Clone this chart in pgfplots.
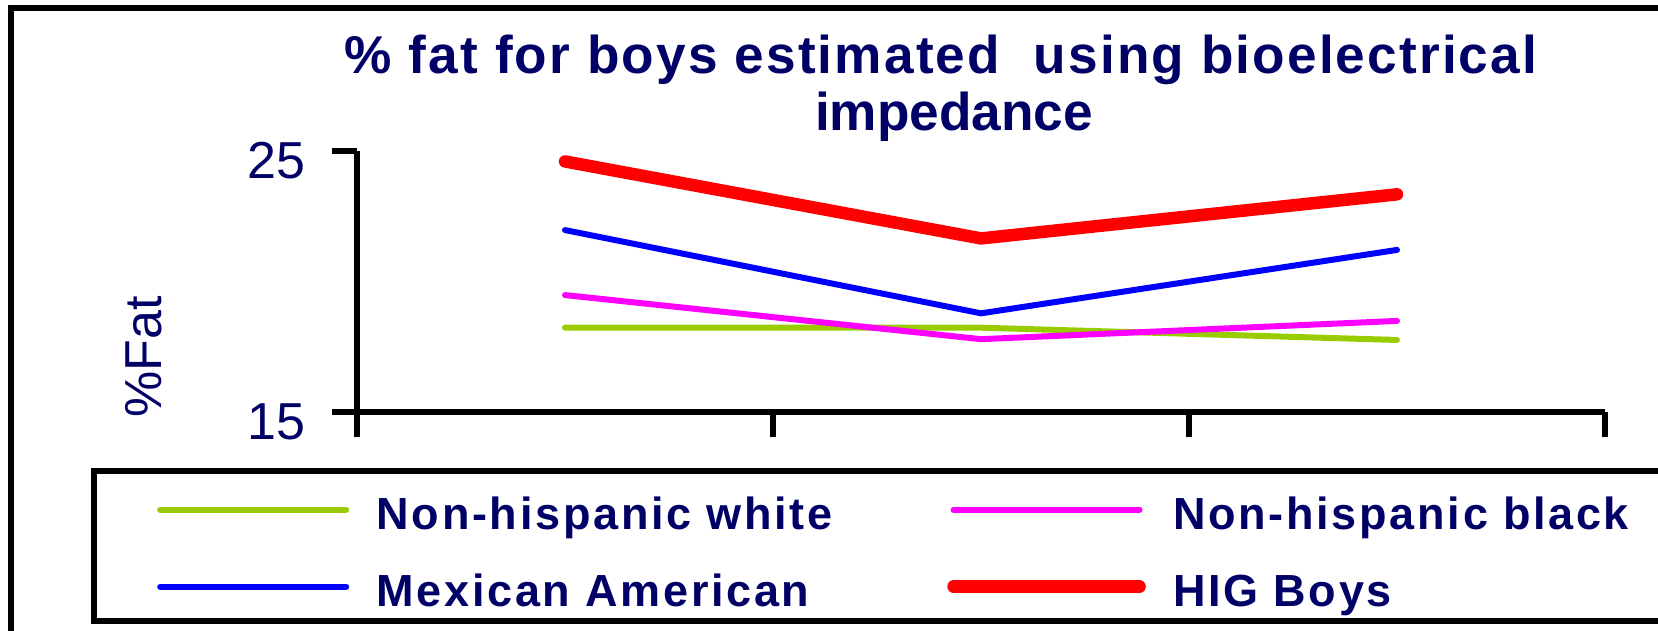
\documentclass[border=0pt]{standalone}
\usepackage{fontspec}
\setmainfont{Liberation Sans}
\newfontfamily\titlefont[LetterSpace=4]{Liberation Sans}
\newfontfamily\legfont[LetterSpace=6]{Liberation Sans}
\usepackage{pgfplots}
\pgfplotsset{compat=1.18}
\definecolor{navy}{HTML}{000066}
\definecolor{nhw}{HTML}{99CC00}
\definecolor{nhb}{HTML}{FF00FF}
\definecolor{mex}{HTML}{0000FF}
\definecolor{hig}{HTML}{FF0000}
\begin{document}
\begin{tikzpicture}
\begin{axis}[
  at={(178.5pt,109.5pt)}, anchor=south west,
  scale only axis, width=624pt, height=130.5pt,
  xmin=0, xmax=3, ymin=15, ymax=25,
  axis lines=left,
  axis line style={-, line width=3.25pt, black},
  xtick={0,1,2,3}, xticklabels={},
  ytick={15,25},
  tick align=outside, major tick length=12.5pt,
  tick style={black, line width=3.25pt},
  /pgf/number format/assume math mode=true,
  yticklabel style={anchor=east, inner sep=0pt, xshift=-13pt, yshift=-5pt,
     font=\fontsize{26pt}{30pt}\selectfont, text=navy},
  ylabel={\%Fat},
  every axis y label/.style={at={(axis description cs:-0.1707,0.2107)}, rotate=90, anchor=center,
     font=\fontsize{26pt}{30pt}\selectfont, text=navy},
  clip=false,
  legend columns=2,
  legend cell align=left,
  legend image code/.code={\draw[#1, line cap=round] (0pt,0pt) -- (93pt,0pt); \path (0pt,-16.9pt) (106.75pt,16.9pt);},
  legend style={draw=none, fill=none, inner sep=0pt, outer sep=0pt,
     at={(-0.1601,-0.23372)}, anchor=north west,
     row sep=0pt, column sep=0pt,
     nodes={inner sep=0pt, text width=285.3pt, align=left, text height=20pt, text depth=0pt,
            font=\legfont\bfseries\fontsize{22.5pt}{26pt}\selectfont, text=navy}},
]
\addplot[nhw, line width=3pt, line cap=round, line join=round] coordinates {(0.5,18.23) (1.5,18.23) (2.5,17.76)};
\addlegendentry{Non-hispanic white}
\addplot[nhb, line width=3pt, line cap=round, line join=round] coordinates {(0.5,19.48) (1.5,17.79) (2.5,18.49)};
\addlegendentry{Non-hispanic black}
\addplot[mex, line width=3pt, line cap=round, line join=round] coordinates {(0.5,21.97) (1.5,18.78) (2.5,21.21)};
\addlegendentry{Mexican American}
\addplot[hig, line width=6.25pt, line cap=round, line join=round] coordinates {(0.5,24.6) (1.5,21.65) (2.5,23.34)};
\addlegendentry{HIG Boys}
\end{axis}
% title
\node[anchor=base, inner sep=0pt, text=navy, font=\titlefont\bfseries\fontsize{26.6pt}{30pt}\selectfont] at (470.5pt,278.5pt) {\% fat for boys estimated\ \ using bioelectrical};
\node[anchor=base, inner sep=0pt, text=navy, font=\bfseries\fontsize{26.6pt}{30pt}\selectfont] at (477pt,250pt) {impedance};
% outer frame
\draw[line width=3pt, black] (5.25pt,-10pt) -- (5.25pt,311.5pt) -- (860pt,311.5pt);
% legend frame
\draw[line width=3pt, black] (860pt,80pt) -- (47pt,80pt) -- (47pt,5pt) -- (860pt,5pt);
\pgfresetboundingbox
\path[use as bounding box] (0pt,0pt) rectangle (829pt,315.5pt);
\end{tikzpicture}
\end{document}
